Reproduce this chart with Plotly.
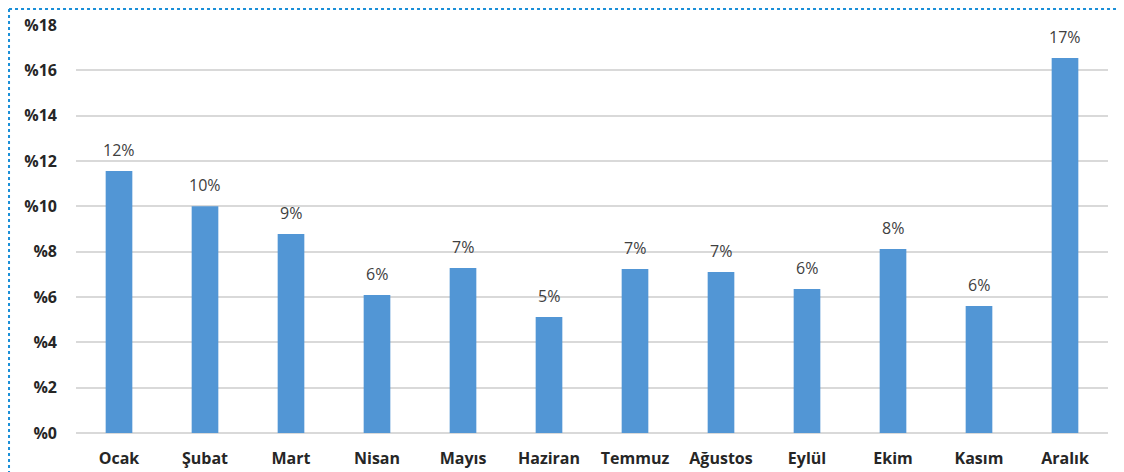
import plotly.graph_objects as go

months = ["Ocak", "Şubat", "Mart", "Nisan", "Mayıs", "Haziran", "Temmuz",
          "Ağustos", "Eylül", "Ekim", "Kasım", "Aralık"]
values = [11.56, 10.0, 8.78, 6.09, 7.28, 5.12, 7.23, 7.10, 6.35, 8.12, 5.60, 16.54]
labels = [f"{round(v):.0f}%" for v in values]
ytick_vals = [0, 2, 4, 6, 8, 10, 12, 14, 16, 18]
ytick_text = [f"%{v}" for v in ytick_vals]

fig = go.Figure(go.Bar(
    x=months, y=values,
    marker=dict(color="#5296d5", line=dict(width=0)),
    width=0.31, hoverinfo="x+y",
))

annotations = [
    dict(x=m, y=v, text=t, xref="x", yref="y", showarrow=False,
         yanchor="bottom", yshift=8,
         font=dict(size=16, color="#404040", family="Open Sans"))
    for m, v, t in zip(months, values, labels)
]

fig.update_layout(
    width=1116, height=464,
    margin=dict(l=68, r=16, t=17, b=39, autoexpand=False),
    paper_bgcolor="white", plot_bgcolor="white",
    showlegend=False,
    font=dict(family="Open Sans", color="#262626"),
    xaxis=dict(tickfont=dict(size=16, family="Open Sans", weight="bold", color="#262626"),
               showgrid=False, showline=False, ticks="", ticklabelstandoff=14,
               automargin=False),
    yaxis=dict(range=[0, 18], tickvals=ytick_vals, ticktext=ytick_text,
               tickfont=dict(size=16, family="Open Sans", weight="bold", color="#262626"),
               showgrid=True, gridcolor="#d9d9d9", gridwidth=1.5,
               zeroline=True, zerolinecolor="#d9d9d9", zerolinewidth=1.5,
               ticks="", ticklabelstandoff=18, automargin=False),
    annotations=annotations,
    shapes=[
        dict(type="line", xref="paper", yref="paper", x0=-0.0649, x1=1.2,
             y0=1.0392, y1=1.0392, line=dict(color="#1a8fd8", width=2, dash="dot")),
        dict(type="line", xref="paper", yref="paper", x0=-0.0649, x1=-0.0649,
             y0=1.0392, y1=-0.3, line=dict(color="#1a8fd8", width=2, dash="dot")),
    ],
)

fig.write_html("out.html")
